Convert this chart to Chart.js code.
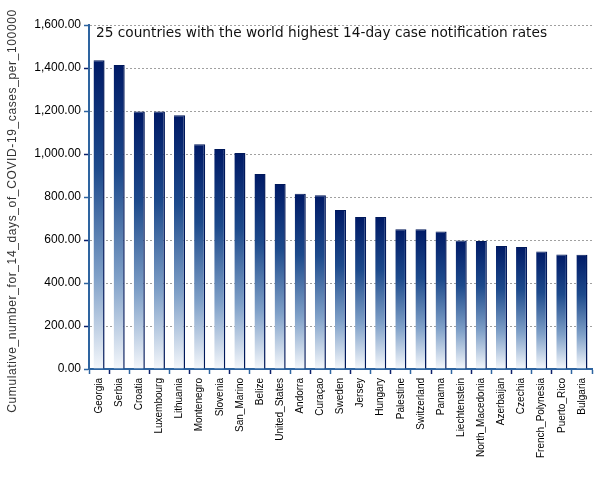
<!DOCTYPE html>
<html>
<head>
<meta charset="utf-8">
<script src="https://cdn.jsdelivr.net/npm/chart.js@4"></script>
<style>
html,body{margin:0;padding:0;background:#fff;}
#wrap{width:605px;height:480px;position:relative;}
</style>
</head>
<body>
<div id="wrap"><canvas id="c" width="605" height="480"></canvas></div>
<script>
const countries = ["Georgia","Serbia","Croatia","Luxembourg","Lithuania","Montenegro","Slovenia","San_Marino","Belize","United_States","Andorra","Curaçao","Sweden","Jersey","Hungary","Palestine","Switzerland","Panama","Liechtenstein","North_Macedonia","Azerbaijan","Czechia","French_Polynesia","Puerto_Rico","Bulgaria"];
const rates = [1436,1414,1198,1198,1180,1045,1023,1005,907,860,815,808,740,707,707,650,650,640,598,595,572,567,546,533,531];
const yTicks = [0,200,400,600,800,1000,1200,1400,1600];
const chartTitle = "25 countries with the world highest 14-day case notification rates";
const yTitle = "Cumulative_number_for_14_days_of_COVID-19_cases_per_100000";

const textPlugin = {
  id: 'texts',
  afterDraw(chart) {
    const {ctx, chartArea} = chart;
    ctx.save();
    ctx.font = '13.7px "DejaVu Sans"';
    ctx.fillStyle = '#111';
    ctx.textBaseline = 'middle';
    ctx.textAlign = 'left';
    ctx.fillText(chartTitle, chartArea.left + 7, chartArea.top + 8);
    ctx.restore();

    ctx.save();
    ctx.font = '12px "Liberation Sans", Arial';
    const w = ctx.measureText(yTitle).width;
    const target = 403;
    ctx.letterSpacing = ((target - w) / (yTitle.length - 1)).toFixed(2) + 'px';
    ctx.fillStyle = '#333';
    ctx.translate(13, 211);
    ctx.rotate(-Math.PI / 2);
    ctx.textAlign = 'center';
    ctx.textBaseline = 'middle';
    ctx.fillText(yTitle, 0, 0);
    ctx.restore();
  }
};

function barGradient(ctx) {
  const chart = ctx.chart;
  if (!chart.chartArea || ctx.type !== 'data') return '#1a3f80';
  const ys = chart.scales.y;
  const top = ys.getPixelForValue(ctx.raw);
  const bot = ys.getPixelForValue(0);
  const g = chart.ctx.createLinearGradient(0, top, 0, bot);
  g.addColorStop(0, '#001a66');
  g.addColorStop(0.35, '#1d4a8c');
  g.addColorStop(0.7, '#7fa0c8');
  g.addColorStop(1, '#f4f7fb');
  return g;
}

new Chart(document.getElementById('c'), {
  type: 'bar',
  data: {
    labels: countries,
    datasets: [{
      data: rates,
      backgroundColor: barGradient,
      borderColor: '#00185a',
      borderWidth: {left: 0, right: 1.5, top: 1, bottom: 0},
      borderSkipped: false,
      barPercentage: 0.55,
      categoryPercentage: 1.0
    }]
  },
  options: {
    responsive: false,
    animation: false,
    devicePixelRatio: 1,
    layout: {padding: {left: 0, right: 13, top: 25, bottom: 0}},
    plugins: {legend: {display: false}, tooltip: {enabled: false}, title: {display: false}},
    scales: {
      x: {
        offset: true,
        afterFit(s) { s.height = 111; },
        grid: {
          offset: true,
          drawOnChartArea: false,
          drawTicks: true,
          tickLength: 5,
          tickColor: (c) => c.index % 2 ? '#0a1f6a' : '#2e64a0',
          tickWidth: 1.5
        },
        border: {display: true, color: '#2e64a0', width: 2},
        ticks: {
          autoSkip: false,
          maxRotation: 90,
          minRotation: 90,
          padding: 4,
          color: '#000',
          font: {family: '"Liberation Sans", Arial', size: 10}
        }
      },
      y: {
        min: 0,
        max: 1600,
        afterBuildTicks(s) { s.ticks = yTicks.map(v => ({value: v})); },
        afterFit(s) { s.width = 89; },
        grid: {
          color: '#a0a0a0',
          lineWidth: 1,
          drawTicks: true,
          tickLength: 5,
          tickColor: (c) => c.index % 2 ? '#0a1f6a' : '#2e64a0',
          tickWidth: 1.5,
          tickBorderDash: []
        },
        border: {display: true, color: '#2e64a0', width: 2, dash: [2, 2]},
        ticks: {
          padding: 3,
          color: '#000',
          font: {family: '"Liberation Sans", Arial', size: 12},
          callback: (v) => v.toLocaleString('en-US', {minimumFractionDigits: 2, maximumFractionDigits: 2})
        },
        title: {display: false}
      }
    }
  },
  plugins: [textPlugin]
});
</script>
</body>
</html>
